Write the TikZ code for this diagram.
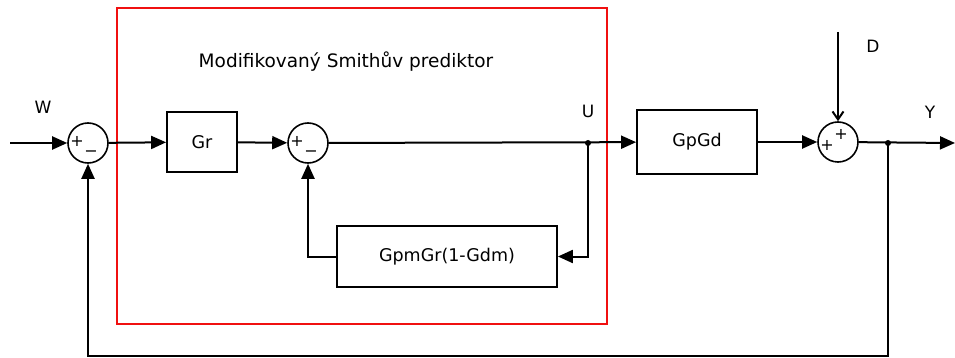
\documentclass[tikz,border=0pt]{standalone}
\usepackage{fontspec}
\setmainfont{DejaVu Sans}
\usetikzlibrary{arrows.meta,positioning,calc}
\definecolor{ink}{HTML}{000000}
\definecolor{frame}{HTML}{F01010}
\tikzset{
  blk/.style={rectangle, draw=ink, line width=1.8pt, fill=white, align=center,
              font=\fontsize{17.5}{20}\selectfont, inner sep=0pt},
  sumn/.style={circle, draw=ink, line width=1.6pt, minimum size=40pt, inner sep=0pt},
  fl/.style={-{Triangle[length=15pt,width=13pt]}, draw=ink, line width=2pt},
  flb/.style={-{Straight Barb[length=8pt,width=11pt]}, draw=ink, line width=2pt},
  lbl/.style={font=\fontsize{17}{18}\selectfont, text=ink, inner sep=0pt},
  sgn/.style={font=\fontsize{16}{16}\selectfont, inner sep=0pt},
  jn/.style={circle, fill=ink, inner sep=0pt, minimum size=6pt}
}
\newcommand{\mns}{\char"2212}

\begin{document}
\begin{tikzpicture}[x=1pt, y=-1pt]
  \useasboundingbox (0,0) rectangle (955,358);
  % predictor frame
  \draw[frame, line width=2pt] (117,8) rectangle (607,324);
  \node[font=\fontsize{18.5}{20}\selectfont] (title) at (346,62) {Modifikovaný Smithův prediktor};
  % blocks
  \node[sumn] (s1) at (88,143) {};
  \node[blk, minimum width=70pt, minimum height=60pt] (gr) at (202,142) {Gr};
  \node[sumn] (s2) at (308,143) {};
  \node[blk, minimum width=220pt, minimum height=61pt] (gm) at (447,256.5) {GpmGr(1-Gdm)};
  \node[blk, minimum width=120pt, minimum height=64pt] (gp) at (697,142) {GpGd};
  \node[sumn] (s3) at (838,142) {};
  % signs
  \node[sgn] at ($(s1)+(-11,-2)$) {+};
  \node[sgn] at ($(s1)+(3,11)$) {\mns};
  \node[sgn] at ($(s2)+(-11,-2)$) {+};
  \node[sgn] at ($(s2)+(3,11)$) {\mns};
  \node[sgn] at ($(s3)+(-11,3)$) {+};
  \node[sgn] at ($(s3)+(3,-8)$) {+};
  % junctions and free ends
  \node[jn] (ju) at (588,143) {};
  \node[jn] (jy) at (888,143) {};
  \coordinate (win) at (10,143);
  \coordinate (dtop) at (838,32);
  \coordinate (yout) at (955,143);
  % labels
  \node[lbl] (lw) at (43,107) {W};
  \node[lbl] (lu) at (588,111) {U};
  \node[lbl] (ld) at (873,46) {D};
  \node[lbl] (ly) at (930,112) {Y};
  % signal lines
  \draw[fl] (win) -- (s1);
  \draw[fl] (s1) -- (gr);
  \draw[fl] (gr) -- (s2);
  \draw[fl] (s2) -- (gp);
  \draw[fl] (ju.center) |- (gm.east);
  \draw[fl] (gm.west) -| (s2.south);
  \draw[fl] (gp) -- (s3);
  \draw[flb] (dtop) -- (s3.north);
  \draw[fl] (s3) -- (yout);
  \draw[fl] (jy.center) -- (888,356) -| (s1.south);
\end{tikzpicture}
\end{document}
